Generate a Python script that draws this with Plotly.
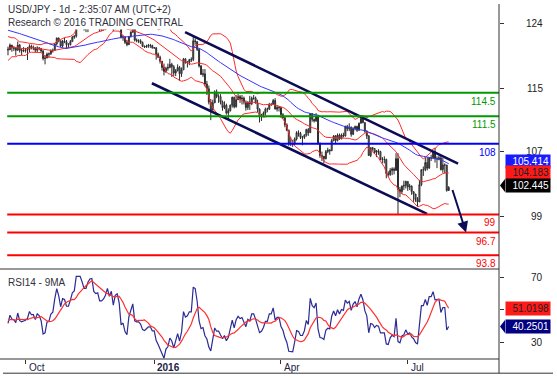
import numpy as np
import pandas as pd
import plotly.graph_objects as go

# ---------------- DATA ----------------
# USD/JPY daily closes before the visible window (Jul 1 - Sep 17, 2015), used for indicator warm-up
lookback_close = [
    123.15, 123.15, 122.80, 122.55, 122.50, 120.80, 121.35, 122.60, 123.30, 123.40, 123.75, 124.00,
    124.05, 124.35, 123.90, 124.00, 123.80, 123.80, 123.25, 123.60, 123.95, 124.10, 123.90,
    123.90, 124.35, 124.80, 124.75, 124.20, 124.60, 125.00, 124.40, 124.40, 124.30, 124.40, 124.35,
    123.90, 123.40, 122.00, 118.45, 119.00, 119.95, 121.00, 121.70, 121.20,
    119.80, 120.20, 120.00, 119.00, 119.25, 119.90, 120.50, 120.60, 120.60, 120.10, 120.40, 120.60, 120.00,
]

# visible window: Sep 18, 2015 - Aug 1, 2016 (business days)
close = [
    # Sep 2015
    119.95, 120.55, 120.20, 120.15, 119.90, 120.55, 119.90, 119.80, 119.85,
    # Oct
    119.90, 120.00, 120.40, 120.20, 120.20, 119.90, 120.20, 120.10, 119.80, 118.85, 118.90, 119.40,
    119.45, 119.80, 119.90, 120.70, 121.45, 121.10, 120.45, 121.05, 121.00, 120.60,
    # Nov
    120.60, 121.00, 121.55, 121.70, 123.15, 123.15, 123.15, 122.90, 122.60, 122.60, 123.10, 123.40,
    123.45, 122.90, 122.80, 122.85, 122.50, 122.50, 122.60, 122.80, 123.20,
    # Dec
    122.90, 123.20, 122.60, 123.20, 123.30, 122.90, 121.50, 121.60, 120.90, 120.60, 121.65, 122.20,
    122.60, 121.20, 121.10, 121.10, 120.90, 120.40, 120.30, 120.40, 120.50, 120.50, 120.20,
    # Jan 2016
    120.20, 119.40, 119.00, 118.50, 117.70, 117.20, 117.60, 117.70, 118.10, 117.80, 117.00, 117.30,
    117.70, 116.90, 117.40, 118.80, 118.30, 118.40, 118.70, 118.70, 121.10,
    # Feb
    121.00, 120.00, 117.90, 116.80, 116.90, 115.60, 115.00, 113.30, 112.30, 113.20, 114.60, 114.00,
    114.00, 113.30, 112.60, 112.90, 111.90, 112.20, 112.90, 113.90, 112.70,
    # Mar
    113.60, 114.00, 113.70, 113.80, 113.30, 112.60, 113.30, 113.10, 113.80, 113.80, 113.20, 112.40,
    111.50, 111.60, 111.90, 112.40, 112.40, 113.00, 113.00, 113.50, 112.40, 112.60, 112.60,
    # Apr
    111.70, 111.30, 110.40, 109.70, 108.10, 108.00, 108.00, 108.60, 109.40, 109.30, 108.80, 108.80,
    109.10, 109.80, 109.40, 111.80, 111.10, 110.90, 111.40, 108.10, 106.50,
    # May
    106.40, 106.10, 107.00, 107.20, 107.10, 108.40, 109.00, 108.40, 109.10, 108.60, 109.10, 109.00,
    110.20, 109.90, 110.10, 109.20, 109.90, 110.20, 109.70, 110.60, 111.20, 110.70,
    # Jun
    109.60, 109.00, 106.50, 107.50, 107.40, 106.90, 107.10, 107.00, 106.00, 106.00, 106.00, 104.20,
    104.10, 104.60, 104.80, 104.60, 106.10, 102.20, 101.90, 102.60, 102.70, 103.20,
    # Jul
    102.50, 102.60, 101.90, 101.60, 100.90, 100.60, 102.80, 104.70, 104.70, 105.60, 104.90, 106.20,
    106.20, 107.00, 106.10, 106.10, 106.20, 104.70, 105.30, 105.30, 102.05,
    # Aug 1
    102.445,
]

high = [
    120.35, 120.75, 120.55, 120.40, 120.30, 121.00, 120.70, 120.05, 120.30,
    120.20, 120.30, 120.65, 120.60, 120.50, 120.30, 120.40, 120.30, 120.20, 119.90, 119.30, 119.60,
    119.60, 120.00, 120.10, 120.80, 121.50, 121.50, 121.10, 121.20, 121.50, 121.20,
    120.80, 121.20, 121.70, 121.80, 123.25, 123.60, 123.40, 123.20, 123.00, 122.80, 123.20, 123.50,
    123.75, 123.60, 123.00, 123.00, 122.90, 122.65, 122.70, 122.90, 123.30,
    123.20, 123.75, 123.40, 123.30, 123.50, 123.40, 122.90, 121.80, 121.60, 121.20, 121.70, 122.30,
    123.00, 122.70, 121.40, 121.30, 121.30, 121.00, 120.50, 120.60, 120.70, 120.70, 120.60,
    120.30, 120.30, 119.60, 119.20, 118.40, 118.20, 117.80, 118.20, 118.80, 118.30, 118.00, 117.50,
    118.10, 117.90, 117.70, 118.90, 118.90, 118.50, 118.80, 119.00, 121.70,
    121.40, 121.00, 120.10, 118.00, 117.50, 117.50, 116.00, 115.40, 113.70, 113.60, 114.80, 114.90,
    114.30, 114.30, 113.50, 113.40, 113.10, 112.50, 113.00, 114.00, 114.00,
    114.20, 114.40, 114.20, 114.20, 114.00, 113.50, 113.40, 114.10, 114.00, 114.20, 114.00, 113.60,
    112.50, 111.80, 112.10, 112.60, 112.60, 113.20, 113.20, 113.70, 113.80, 112.90, 112.80,
    112.70, 111.90, 111.40, 110.60, 109.80, 108.80, 108.50, 108.80, 109.60, 109.70, 109.50, 109.00,
    109.20, 109.90, 110.00, 111.90, 111.90, 111.20, 111.90, 111.70, 108.10,
    107.00, 106.30, 107.20, 107.50, 107.30, 108.60, 109.10, 109.10, 109.30, 109.30, 109.30, 109.40,
    110.30, 110.40, 110.60, 110.20, 110.10, 110.30, 110.30, 110.70, 111.40, 111.40,
    110.70, 109.70, 109.10, 107.50, 107.60, 107.40, 107.20, 107.30, 107.10, 106.30, 106.40, 106.10,
    104.50, 104.90, 105.00, 105.00, 106.80, 106.80, 102.50, 102.70, 103.30, 103.30,
    103.10, 102.90, 102.70, 101.80, 101.40, 101.20, 103.40, 104.70, 105.10, 106.30, 106.30, 106.30,
    106.60, 107.00, 107.50, 106.40, 106.50, 106.50, 106.20, 105.50, 105.30,
    102.60,
]

low = [
    119.25, 119.95, 119.70, 119.80, 119.20, 119.85, 119.60, 119.25, 119.65,
    119.60, 118.65, 119.65, 120.00, 119.90, 119.60, 119.60, 119.90, 119.60, 118.60, 118.10, 118.90,
    118.95, 119.30, 119.60, 119.80, 120.50, 120.90, 120.30, 120.30, 120.80, 120.05,
    120.25, 120.50, 121.00, 121.35, 121.50, 122.95, 122.85, 122.75, 122.40, 122.20, 122.20, 123.00,
    123.20, 122.80, 122.65, 122.60, 122.25, 122.30, 122.40, 122.45, 122.80,
    122.60, 122.90, 122.30, 122.60, 123.10, 122.80, 121.40, 121.10, 120.70, 120.40, 120.60, 121.50,
    122.10, 121.00, 120.90, 120.80, 120.70, 120.30, 120.20, 120.20, 120.20, 120.20, 120.10,
    120.10, 118.70, 118.90, 118.20, 117.30, 116.70, 117.00, 117.30, 117.60, 116.50, 116.60, 116.60,
    117.20, 116.00, 116.50, 117.40, 118.20, 117.70, 118.00, 118.40, 118.50,
    120.60, 119.80, 117.70, 116.80, 116.50, 115.30, 114.20, 113.00, 111.00, 112.20, 113.50, 113.80,
    113.20, 113.00, 112.20, 112.40, 111.70, 111.00, 112.10, 112.60, 112.50,
    112.60, 113.60, 113.20, 113.00, 113.00, 112.20, 112.30, 112.30, 112.90, 113.60, 113.10, 112.00,
    110.70, 110.90, 111.40, 111.60, 112.00, 112.30, 112.80, 113.00, 112.40, 112.10, 112.10,
    111.50, 111.20, 110.10, 109.60, 107.70, 107.70, 107.60, 107.80, 108.40, 108.90, 108.60, 107.80,
    108.60, 108.90, 109.00, 109.40, 110.80, 110.70, 110.80, 107.90, 106.20,
    105.80, 105.50, 106.00, 106.80, 106.60, 107.10, 108.30, 108.00, 108.30, 108.50, 108.60, 108.80,
    108.90, 109.60, 109.60, 108.90, 109.10, 109.70, 109.50, 109.70, 110.60, 110.60,
    109.40, 108.60, 106.50, 106.30, 107.10, 106.70, 106.30, 106.60, 105.90, 105.50, 105.50, 103.60,
    103.80, 103.90, 104.00, 104.10, 104.60, 99.00, 101.20, 101.60, 102.10, 102.30,
    102.00, 102.10, 101.50, 100.60, 100.60, 99.99, 100.60, 102.60, 103.90, 104.50, 104.60, 104.80,
    105.80, 106.10, 105.60, 104.90, 105.90, 104.60, 104.30, 104.20, 101.90,
    102.30,
]

# key levels drawn as horizontal lines
green_levels = [114.5, 111.5]
blue_levels = [108.0]
red_levels = [99.0, 96.7, 93.8]

# downward channel (bar index, price) end points
channel_upper = [(90.8, 122.2), (230.8, 105.47)]
channel_lower = [(73.8, 115.7), (214.9, 99.08)]
# projected move arrow (bar index, price)
arrow_from = (227.7, 102.3)
arrow_to = (234.9, 96.7)

# last values shown in the right-hand tags
last_ma50 = 105.414
last_bb_mid = 104.183
last_close = 102.445
last_rsi_ma = 51.0198
last_rsi = 40.2501

# price axis tick marks (position, label)
price_tick_pos = [123.35, 115.0, 107.0, 98.75]
price_tick_text = ["124", "115", "107", "99"]
rsi_tick_pos = [70, 50, 30]
rsi_tick_text = ["70", "", "30"]

# ---------------- INDICATORS ----------------
n_look = len(lookback_close)
all_close = pd.Series(lookback_close + close, dtype=float)
dates = pd.bdate_range("2015-07-01", periods=len(all_close))
vis_dates = dates[n_look:]
xi = np.arange(len(close))
opens = [lookback_close[-1]] + close[:-1]

ma50 = all_close.rolling(50).mean().values[n_look:]
mid20 = all_close.rolling(20).mean()
sd20 = all_close.rolling(20).std(ddof=0)
bb_up = (mid20 + 2 * sd20).values[n_look:]
bb_dn = (mid20 - 2 * sd20).values[n_look:]
bb_mid = mid20.values[n_look:]

delta = all_close.diff()
gain = delta.clip(lower=0)
loss = -delta.clip(upper=0)
avg_g = gain.ewm(alpha=1 / 14, adjust=False).mean()
avg_l = loss.ewm(alpha=1 / 14, adjust=False).mean()
rsi_all = 100 - 100 / (1 + avg_g / avg_l)
rsi_ma_all = rsi_all.rolling(9).mean()
rsi = rsi_all.values[n_look:]
rsi_ma = rsi_ma_all.values[n_look:]

# month ticks
tick_idx, tick_lbl = [], []
for m, lbl in [((2015, 10), "Oct"), ((2016, 1), "<b>2016</b>"), ((2016, 4), "Apr"), ((2016, 7), "Jul")]:
    pos = int(np.where((vis_dates.year == m[0]) & (vis_dates.month == m[1]))[0][0])
    tick_idx.append(pos)
    tick_lbl.append(lbl)

# ---------------- FIGURE ----------------
FONT = "Liberation Sans, Arial, sans-serif"
NAVY = "#0c0c55"
XR = [-4.1, 251.8]
Y_MAIN = [92.06, 125.78]
Y_RSI = [19.4, 75.6]
SPLIT = 0.2535

fig = go.Figure()

fig.add_trace(go.Candlestick(
    x=xi, open=opens, high=high, low=low, close=close,
    increasing=dict(line=dict(color="#2a2a2a", width=1), fillcolor="#a0a0a0"),
    decreasing=dict(line=dict(color="#2a2a2a", width=1), fillcolor="#a0a0a0"),
    whiskerwidth=0, xaxis="x", yaxis="y", hoverinfo="skip",
))
for arr in (bb_up, bb_mid, bb_dn):
    fig.add_trace(go.Scatter(x=xi, y=arr, mode="lines", line=dict(color="#ff2a2a", width=1),
                             xaxis="x", yaxis="y", hoverinfo="skip"))
fig.add_trace(go.Scatter(x=xi, y=ma50, mode="lines", line=dict(color="#3535ff", width=1),
                         xaxis="x", yaxis="y", hoverinfo="skip"))
for ch in (channel_upper, channel_lower):
    fig.add_trace(go.Scatter(x=[p[0] for p in ch], y=[p[1] for p in ch], mode="lines",
                             line=dict(color=NAVY, width=2.6), xaxis="x", yaxis="y", hoverinfo="skip"))

fig.add_trace(go.Scatter(x=xi, y=rsi, mode="lines", line=dict(color="#2b2b95", width=1.2),
                         xaxis="x2", yaxis="y2", hoverinfo="skip"))
fig.add_trace(go.Scatter(x=xi, y=rsi_ma, mode="lines", line=dict(color="#ff3030", width=1.2),
                         xaxis="x2", yaxis="y2", hoverinfo="skip"))

shapes = []
annos = []
for levels, col in ((green_levels, "#009a00"), (blue_levels, "#0000ff"), (red_levels, "#ff0000")):
    for lv in levels:
        shapes.append(dict(type="line", xref="x", yref="y", x0=-0.4, x1=XR[1], y0=lv, y1=lv,
                           line=dict(color=col, width=2), layer="above"))
        txt = ("%g" % lv)
        annos.append(dict(xref="paper", yref="y", x=1, y=lv, xanchor="right", yanchor="top",
                          xshift=-1, yshift=-1, text=txt, showarrow=False,
                          font=dict(family=FONT, size=10, color=col)))

# frame lines
LINE = dict(color="#333333", width=1)
shapes += [
    dict(type="line", xref="paper", yref="paper", x0=1, x1=1, y0=-0.04, y1=1, line=LINE),
    dict(type="line", xref="paper", yref="paper", x0=0, x1=1, y0=SPLIT, y1=SPLIT, line=LINE),
    dict(type="line", xref="paper", yref="paper", x0=0, x1=1, y0=0, y1=0, line=LINE),
    dict(type="line", xref="paper", yref="paper", x0=0.006, x1=553 / 499, y0=-0.04, y1=-0.04, line=LINE),
]

# arrow
annos.append(dict(xref="x", yref="y", axref="x", ayref="y", x=arrow_to[0], y=arrow_to[1],
                  ax=arrow_from[0], ay=arrow_from[1], text="", showarrow=True,
                  arrowhead=2, arrowsize=1.1, arrowwidth=2, arrowcolor=NAVY))

# titles
for txt, yy in (("USD/JPY - 1d - 2:35:07 AM (UTC+2)", 9), ("Research © 2016 TRADING CENTRAL", 22)):
    annos.append(dict(xref="paper", yref="paper", x=0, y=1, xanchor="left", yanchor="middle",
                      xshift=6, yshift=-(yy - 4), text=txt, showarrow=False, bgcolor="white",
                      borderpad=1, font=dict(family=FONT, size=10, color="#303040")))
annos.append(dict(xref="paper", yref="paper", x=0, y=SPLIT, xanchor="left", yanchor="top",
                  xshift=6, yshift=-6, text="RSI14 - 9MA", showarrow=False,
                  font=dict(family=FONT, size=10, color="#303040")))

# axis tick labels (right side)
for pos, t in zip(price_tick_pos, price_tick_text):
    annos.append(dict(xref="paper", yref="y", x=1, y=pos, xanchor="right", xshift=46, text=t,
                      showarrow=False, font=dict(family=FONT, size=10, color="#222222")))
for pos, t in zip(rsi_tick_pos, rsi_tick_text):
    if t:
        annos.append(dict(xref="paper", yref="y2", x=1, y=pos, xanchor="right", xshift=46, text=t,
                          showarrow=False, font=dict(family=FONT, size=10, color="#222222")))

# date labels
for pos, t in zip(tick_idx, tick_lbl):
    annos.append(dict(xref="x2", yref="paper", x=pos, y=0, xanchor="left", yanchor="top",
                      xshift=1, yshift=-1, text=t, showarrow=False,
                      font=dict(family=FONT, size=10, color="#222244")))

# value tags
def tag(val, yref, text, bg, fg, yshift):
    annos.append(dict(xref="paper", yref=yref, x=1, y=val, xanchor="left", yanchor="middle",
                      xshift=6, yshift=yshift, text=text, showarrow=False, bgcolor=bg,
                      width=42, height=11, align="right", borderpad=1,
                      font=dict(family=FONT, size=10, color=fg)))

tag(last_ma50, "y", "%.3f" % last_ma50, "#1a1aff", "white", 3)
tag(last_bb_mid, "y", "%.3f" % last_bb_mid, "#ff1a1a", "#222222", 1)
tag(last_close, "y", "%.3f" % last_close, "#000000", "white", 2)
tag(last_rsi_ma, "y2", "%.4f" % last_rsi_ma, "#ff1a1a", "#222222", 0)
tag(last_rsi, "y2", "%.4f" % last_rsi, "#000080", "white", -1)

for val, yref, col, ys in ((last_close, "y", "#000000", 2), (last_rsi, "y2", "#000080", -1)):
    shapes.append(dict(type="path", xref="paper", yref=yref, xsizemode="pixel", ysizemode="pixel",
                       xanchor=1, yanchor=val, path="M 1 %g L 6 %g L 6 %g Z" % (ys, ys + 6.5, ys - 6.5),
                       fillcolor=col, line=dict(width=0)))

fig.update_layout(
    width=557, height=378,
    margin=dict(l=0, r=58, t=4, b=19),
    paper_bgcolor="white", plot_bgcolor="white",
    showlegend=False,
    xaxis=dict(domain=[0, 1], range=XR, anchor="y", showgrid=False, zeroline=False,
               showticklabels=False, rangeslider=dict(visible=False), ticks=""),
    xaxis2=dict(domain=[0, 1], range=XR, anchor="y2", matches="x", showgrid=False, zeroline=False,
                showticklabels=False, tickvals=tick_idx, ticks="outside", ticklen=4,
                tickcolor="#333333"),
    yaxis=dict(domain=[SPLIT, 1], range=Y_MAIN, side="right", anchor="x", showgrid=False,
               zeroline=False, tickvals=price_tick_pos, showticklabels=False, ticks="outside",
               ticklen=4, tickcolor="#333333"),
    yaxis2=dict(domain=[0, SPLIT], range=Y_RSI, side="right", anchor="x2", showgrid=False,
                zeroline=False, tickvals=rsi_tick_pos, showticklabels=False, ticks="outside",
                ticklen=4, tickcolor="#333333"),
    shapes=shapes,
    annotations=annos,
)

# remove the browser's default page margin so the 557x378 figure fills the window
fig.write_html("out.html", config={"displayModeBar": False},
               post_script="document.body.style.margin='0';")
